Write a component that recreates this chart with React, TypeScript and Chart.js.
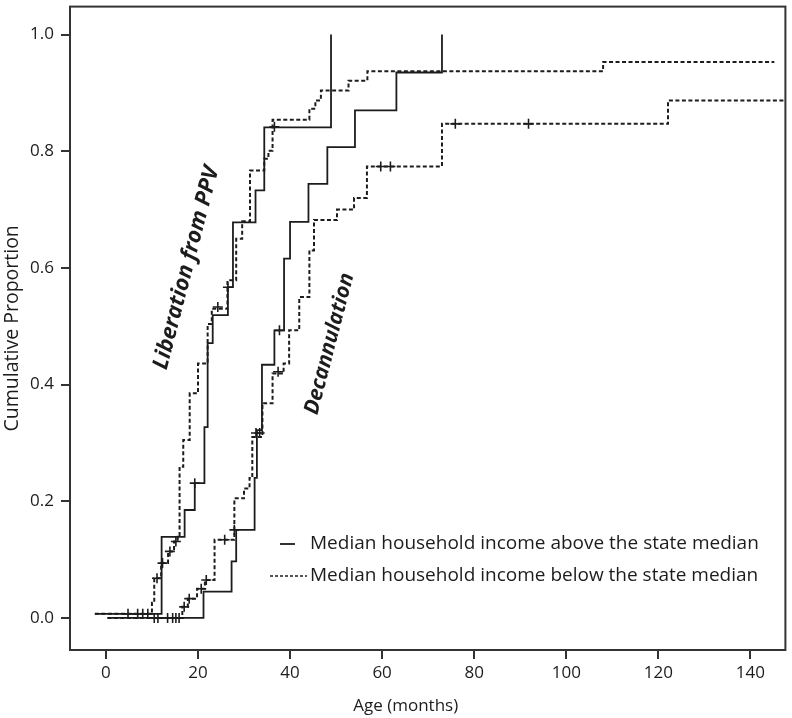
import React, { useEffect, useRef } from "react";
import { Chart, registerables } from "chart.js";

Chart.register(...registerables);

// ---- Data (months, cumulative proportion) ----
const libAbove: [number, number][] = [
  [-2.4, 0.007], [12.1, 0.139], [17.1, 0.185], [19.3, 0.231], [21.4, 0.327],
  [22.1, 0.471], [23.2, 0.519], [26.5, 0.567], [27.6, 0.678], [32.5, 0.733],
  [34.4, 0.841], [48.9, 1.0],
];
const libBelow: [number, number][] = [
  [-2.4, 0.007], [10.0, 0.026], [10.5, 0.068], [12.0, 0.094], [13.5, 0.114],
  [14.8, 0.131], [15.6, 0.139], [16.0, 0.259], [16.8, 0.305], [18.2, 0.385],
  [20.0, 0.436], [22.1, 0.504], [23.0, 0.53], [26.4, 0.579], [28.3, 0.65],
  [29.6, 0.68], [31.3, 0.767], [34.4, 0.787], [35.3, 0.801], [36.2, 0.854],
  [44.2, 0.873], [45.5, 0.887], [46.7, 0.904], [52.7, 0.921], [56.8, 0.937],
  [108.0, 0.953], [145.2, 0.953],
];
const decAbove: [number, number][] = [
  [0.5, 0], [21.2, 0.045], [27.3, 0.097], [28.3, 0.151], [32.3, 0.24],
  [32.8, 0.322], [33.9, 0.434], [36.6, 0.493], [38.7, 0.616], [40.0, 0.679],
  [44.0, 0.744], [48.1, 0.807], [54.1, 0.87], [63.1, 0.935], [73.0, 1.0],
];
const decBelow: [number, number][] = [
  [0.3, 0], [16.6, 0.019], [17.8, 0.033], [19.8, 0.05], [21.5, 0.065],
  [23.6, 0.134], [27.9, 0.205], [30.0, 0.222], [31.2, 0.24], [31.8, 0.31],
  [34.0, 0.368], [36.2, 0.419], [38.6, 0.436], [39.8, 0.493], [42.0, 0.55],
  [44.2, 0.63], [45.2, 0.682], [50.2, 0.70], [53.9, 0.72], [56.7, 0.774],
  [73.0, 0.847], [122.1, 0.887], [147.3, 0.887],
];
const censored: [number, number][] = [
  [4.8, 0.007], [6.9, 0.007], [8.0, 0.007], [9.1, 0.007],
  [10.5, 0], [11.3, 0], [13.4, 0], [14.5, 0], [15.2, 0], [15.9, 0],
  [11.1, 0.068], [12.3, 0.094], [13.9, 0.114], [15.2, 0.131],
  [19.3, 0.231], [24.3, 0.533], [26.5, 0.567], [36.6, 0.842],
  [17.0, 0.019], [18.1, 0.033], [20.7, 0.05], [21.8, 0.065], [25.8, 0.134],
  [27.9, 0.151], [32.6, 0.317], [33.4, 0.317], [37.4, 0.422], [37.7, 0.493],
  [59.7, 0.774], [61.8, 0.774], [75.9, 0.847], [91.8, 0.847],
];
const xTicks = [0, 20, 40, 60, 80, 100, 120, 140];
const yTicks = [0, 0.2, 0.4, 0.6, 0.8, 1.0];
const xTitle = "Age (months)";
const yTitle = "Cumulative Proportion";
const legendLabels = [
  "Median household income above the state median",
  "Median household income below the state median",
];
const annotations = [
  { text: "Liberation from PPV", x: 17.5, y: 0.6, size: 22 },
  { text: "Decannulation", x: 48.6, y: 0.47, size: 21 },
];

const FONT = "'Open Sans', 'Noto Sans', sans-serif";
const INK = "#1c1c1c";

const toPts = (a: [number, number][]) => a.map(([x, y]) => ({ x, y }));

export default function App() {
  const ref = useRef<HTMLCanvasElement | null>(null);

  useEffect(() => {
    document.body.style.margin = "0";
    const canvas = ref.current;
    if (!canvas) return;

    const framePlugin = {
      id: "frameAndText",
      afterDatasetsDraw(chart: any) {
        const { ctx, chartArea: a, scales } = chart;
        ctx.save();
        ctx.strokeStyle = "#333";
        ctx.lineWidth = 2;
        ctx.strokeRect(a.left, a.top, a.right - a.left, a.bottom - a.top);

        // axis titles
        ctx.fillStyle = INK;
        ctx.textAlign = "center";
        ctx.textBaseline = "middle";
        ctx.font = `17px ${FONT}`;
        ctx.fillText(xTitle, (a.left + a.right) / 2 - 22, a.bottom + 56);
        ctx.save();
        ctx.font = `19.5px ${FONT}`;
        ctx.translate(12, (a.top + a.bottom) / 2);
        ctx.rotate(-Math.PI / 2);
        ctx.fillText(yTitle, 0, 0);
        ctx.restore();

        // rotated annotations
        for (const an of annotations) {
          ctx.save();
          ctx.font = `italic bold ${an.size}px ${FONT}`;
          ctx.translate(scales.x.getPixelForValue(an.x), scales.y.getPixelForValue(an.y));
          ctx.rotate((-75.5 * Math.PI) / 180);
          ctx.fillText(an.text, 0, 0);
          ctx.restore();
        }

        // legend
        const lx = a.left + 240;
        const ly1 = a.bottom - 106;
        const ly2 = a.bottom - 74;
        ctx.strokeStyle = INK;
        ctx.lineWidth = 1.8;
        ctx.setLineDash([]);
        ctx.beginPath();
        ctx.moveTo(lx - 30, ly1);
        ctx.lineTo(lx - 15, ly1);
        ctx.stroke();
        ctx.lineWidth = 1.6;
        ctx.setLineDash([3, 2]);
        ctx.beginPath();
        ctx.moveTo(lx - 40, ly2);
        ctx.lineTo(lx - 3, ly2);
        ctx.stroke();
        ctx.setLineDash([]);
        ctx.font = `19px ${FONT}`;
        ctx.textAlign = "left";
        ctx.fillText(legendLabels[0], lx, ly1);
        ctx.fillText(legendLabels[1], lx, ly2);
        ctx.restore();
      },
    };

    const lineDs = (data: [number, number][], dashed: boolean) => ({
      data: toPts(data),
      showLine: true,
      stepped: true,
      borderColor: INK,
      borderWidth: dashed ? 2 : 1.8,
      borderDash: dashed ? [4, 2.5] : [],
      pointRadius: 0,
      fill: false,
    });

    const chart = new Chart(canvas, {
      type: "scatter",
      data: {
        datasets: [
          lineDs(libAbove, false),
          lineDs(libBelow, true),
          lineDs(decAbove, false),
          lineDs(decBelow, true),
          {
            data: toPts(censored),
            showLine: false,
            pointStyle: "cross",
            pointRadius: 5,
            pointBorderWidth: 1.6,
            pointBorderColor: INK,
            borderColor: INK,
          } as any,
        ],
      },
      plugins: [framePlugin],
      options: {
        responsive: false,
        animation: false,
        devicePixelRatio: 1,
        layout: { padding: { top: 0, right: 4, left: 0, bottom: 0 } },
        plugins: { legend: { display: false }, tooltip: { enabled: false } },
        scales: {
          x: {
            type: "linear",
            min: -7.8,
            max: 147.6,
            afterBuildTicks: (s: any) => {
              s.ticks = xTicks.map((v) => ({ value: v }));
            },
            afterFit: (s: any) => {
              s.height = 68;
              s.paddingLeft = 0;
              s.paddingRight = 0;
            },
            ticks: {
              font: { family: FONT, size: 17 },
              color: INK,
              padding: 4,
              maxRotation: 0,
              callback: (v: any) => String(v),
            },
            grid: {
              drawOnChartArea: false,
              drawTicks: true,
              tickLength: 9,
              color: "#333",
              lineWidth: 2,
            },
            border: { display: false },
          },
          y: {
            type: "linear",
            min: -0.055,
            max: 1.048,
            afterBuildTicks: (s: any) => {
              s.ticks = yTicks.map((v) => ({ value: v }));
            },
            afterFit: (s: any) => {
              s.width = 70;
              s.paddingTop = 0;
              s.paddingBottom = 0;
            },
            ticks: {
              font: { family: FONT, size: 17 },
              color: INK,
              padding: 7,
              callback: (v: any) => Number(v).toFixed(1),
            },
            grid: {
              drawOnChartArea: false,
              drawTicks: true,
              tickLength: 9,
              color: "#333",
              lineWidth: 2,
            },
            border: { display: false },
          },
        },
      },
    });
    return () => chart.destroy();
  }, []);

  return <canvas ref={ref} width={792} height={718} style={{ display: "block", width: 792, height: 718 }} />;
}
